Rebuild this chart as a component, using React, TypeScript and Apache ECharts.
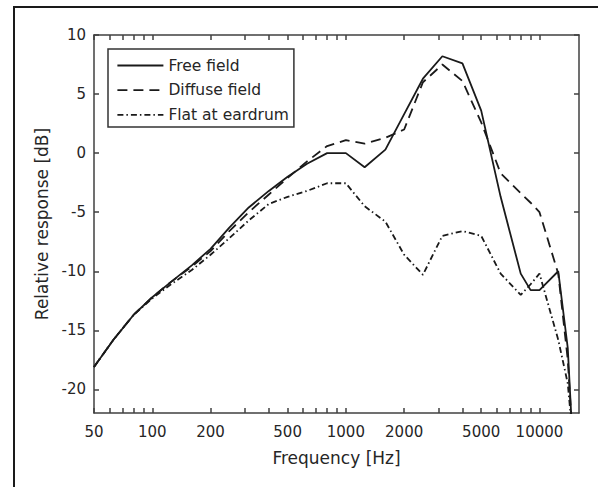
import React, { useEffect, useRef } from "react";
import * as echarts from "echarts";

const freqHz = [50, 63, 80, 100, 125, 160, 200, 250, 315, 400, 500, 630, 800, 1000, 1250, 1600, 2000, 2500, 3150, 4000, 5000, 6300, 8000, 9000, 10000, 12500, 14000, 16000];
const freeField = [-18.1, -15.8, -13.7, -12.2, -10.9, -9.5, -8.1, -6.3, -4.6, -3.2, -2.0, -0.9, 0.0, 0.0, -1.2, 0.3, 3.3, 6.3, 8.2, 7.6, 3.6, -3.7, -10.2, -11.6, -11.6, -10.0, -16.5, -35];
const diffuseField = [-18.1, -15.8, -13.7, -12.2, -10.9, -9.6, -8.3, -6.6, -5.0, -3.5, -2.1, -0.7, 0.6, 1.1, 0.8, 1.3, 2.0, 6.0, 7.5, 6.1, 2.6, -1.7, -3.4, -4.2, -5.0, -10.2, -17.5, -33];
const flatEardrum = [-18.1, -15.8, -13.7, -12.3, -11.1, -9.9, -8.6, -7.2, -5.7, -4.3, -3.7, -3.2, -2.55, -2.55, -4.5, -5.8, -8.6, -10.3, -7.0, -6.6, -7.0, -10.2, -12.0, -11.1, -10.2, -15.8, -19.5, -30];

const seriesNames = ["Free field", "Diffuse field", "Flat at eardrum"];
const xTickHz = [50, 60, 70, 80, 90, 100, 200, 300, 400, 500, 600, 700, 800, 900, 1000, 2000, 3000, 4000, 5000, 6000, 7000, 8000, 9000, 10000];
const xLabelHz = [50, 100, 200, 500, 1000, 2000, 5000, 10000];
const yTicks = [-20, -15, -10, -5, 0, 5, 10];
const xMinHz = 50;
const xMaxHz = 16000;
const yMin = -22;
const yMax = 10;

const FONT = "DejaVu Sans";
const AXIS_COLOR = "#404040";
const TEXT_COLOR = "#262626";
const LINE_COLOR = "#1a1a1a";

export default function App() {
  const ref = useRef<HTMLDivElement>(null);

  useEffect(() => {
    document.body.style.margin = "0";
    const chart = echarts.init(ref.current!, null, { renderer: "svg" });
    const lg = (f: number) => Math.log10(f);
    const axisLineStyle = { color: AXIS_COLOR, width: 1.5 };
    const xCommon = {
      type: "value" as const,
      min: lg(xMinHz),
      max: lg(xMaxHz),
      axisLine: { show: true, onZero: false, lineStyle: axisLineStyle },
      axisTick: { show: true, inside: true, length: 5, customValues: xTickHz.map(lg), lineStyle: axisLineStyle },
      splitLine: { show: false },
    };
    const yCommon = {
      type: "value" as const,
      min: yMin,
      max: yMax,
      axisLine: { show: true, onZero: false, lineStyle: axisLineStyle },
      axisTick: { show: true, inside: true, length: 5, customValues: yTicks, lineStyle: axisLineStyle },
      splitLine: { show: false },
    };
    const mk = (vals: number[]) => freqHz.map((f, i) => [lg(f), vals[i]]);
    const dashes: any[] = ["solid", [10, 6], [6, 3, 1.5, 3]];
    const allVals = [freeField, diffuseField, flatEardrum];

    chart.setOption({
      animation: false,
      backgroundColor: "#ffffff",
      grid: { left: 94, right: 19, top: 35, bottom: 74 },
      legend: {
        orient: "vertical",
        left: 108,
        top: 49,
        data: seriesNames,
        itemWidth: 46,
        itemHeight: 16,
        itemGap: 8.7,
        padding: [8.5, 5, 4, 8.5],
        backgroundColor: "#ffffff",
        borderColor: "#333333",
        borderWidth: 1.5,
        borderRadius: 0,
        itemStyle: { opacity: 0 },
        lineStyle: { width: 1.8 },
        textStyle: { fontFamily: FONT, fontSize: 15.5, color: TEXT_COLOR, lineHeight: 16 },
      },
      xAxis: [
        {
          ...xCommon,
          position: "bottom",
          axisLabel: {
            show: true,
            customValues: xLabelHz.map(lg),
            formatter: (v: number) => String(Math.round(Math.pow(10, v))),
            fontFamily: FONT,
            fontSize: 15,
            color: TEXT_COLOR,
            margin: 11,
          },
          name: "Frequency [Hz]",
          nameLocation: "middle",
          nameGap: 36,
          nameTextStyle: { fontFamily: FONT, fontSize: 17, color: TEXT_COLOR },
        },
        {
          ...xCommon,
          position: "top",
          axisLabel: { show: false },
        },
      ],
      yAxis: [
        {
          ...yCommon,
          position: "left",
          axisLabel: {
            show: true,
            customValues: yTicks,
            fontFamily: FONT,
            fontSize: 15,
            color: TEXT_COLOR,
            margin: 8,
          },
          name: "Relative response [dB]",
          nameLocation: "middle",
          nameGap: 41,
          nameTextStyle: { fontFamily: FONT, fontSize: 17, color: TEXT_COLOR },
        },
        {
          ...yCommon,
          position: "right",
          axisLabel: { show: false },
        },
      ],
      series: seriesNames.map((name, i) => ({
        name,
        type: "line",
        xAxisIndex: 0,
        yAxisIndex: 0,
        data: mk(allVals[i]),
        symbol: "none",
        showSymbol: false,
        clip: true,
        lineStyle: { color: LINE_COLOR, width: 1.8, type: dashes[i] },
        itemStyle: { color: LINE_COLOR },
      })),
      graphic: [
        {
          type: "rect",
          shape: { x: 14, y: 7, width: 700, height: 700 },
          style: { fill: "none", stroke: "#1a1a1a", lineWidth: 2 },
          silent: true,
        },
      ],
    });
    return () => chart.dispose();
  }, []);

  return <div ref={ref} style={{ position: "fixed", left: 0, top: 0, width: 598, height: 487 }} />;
}
